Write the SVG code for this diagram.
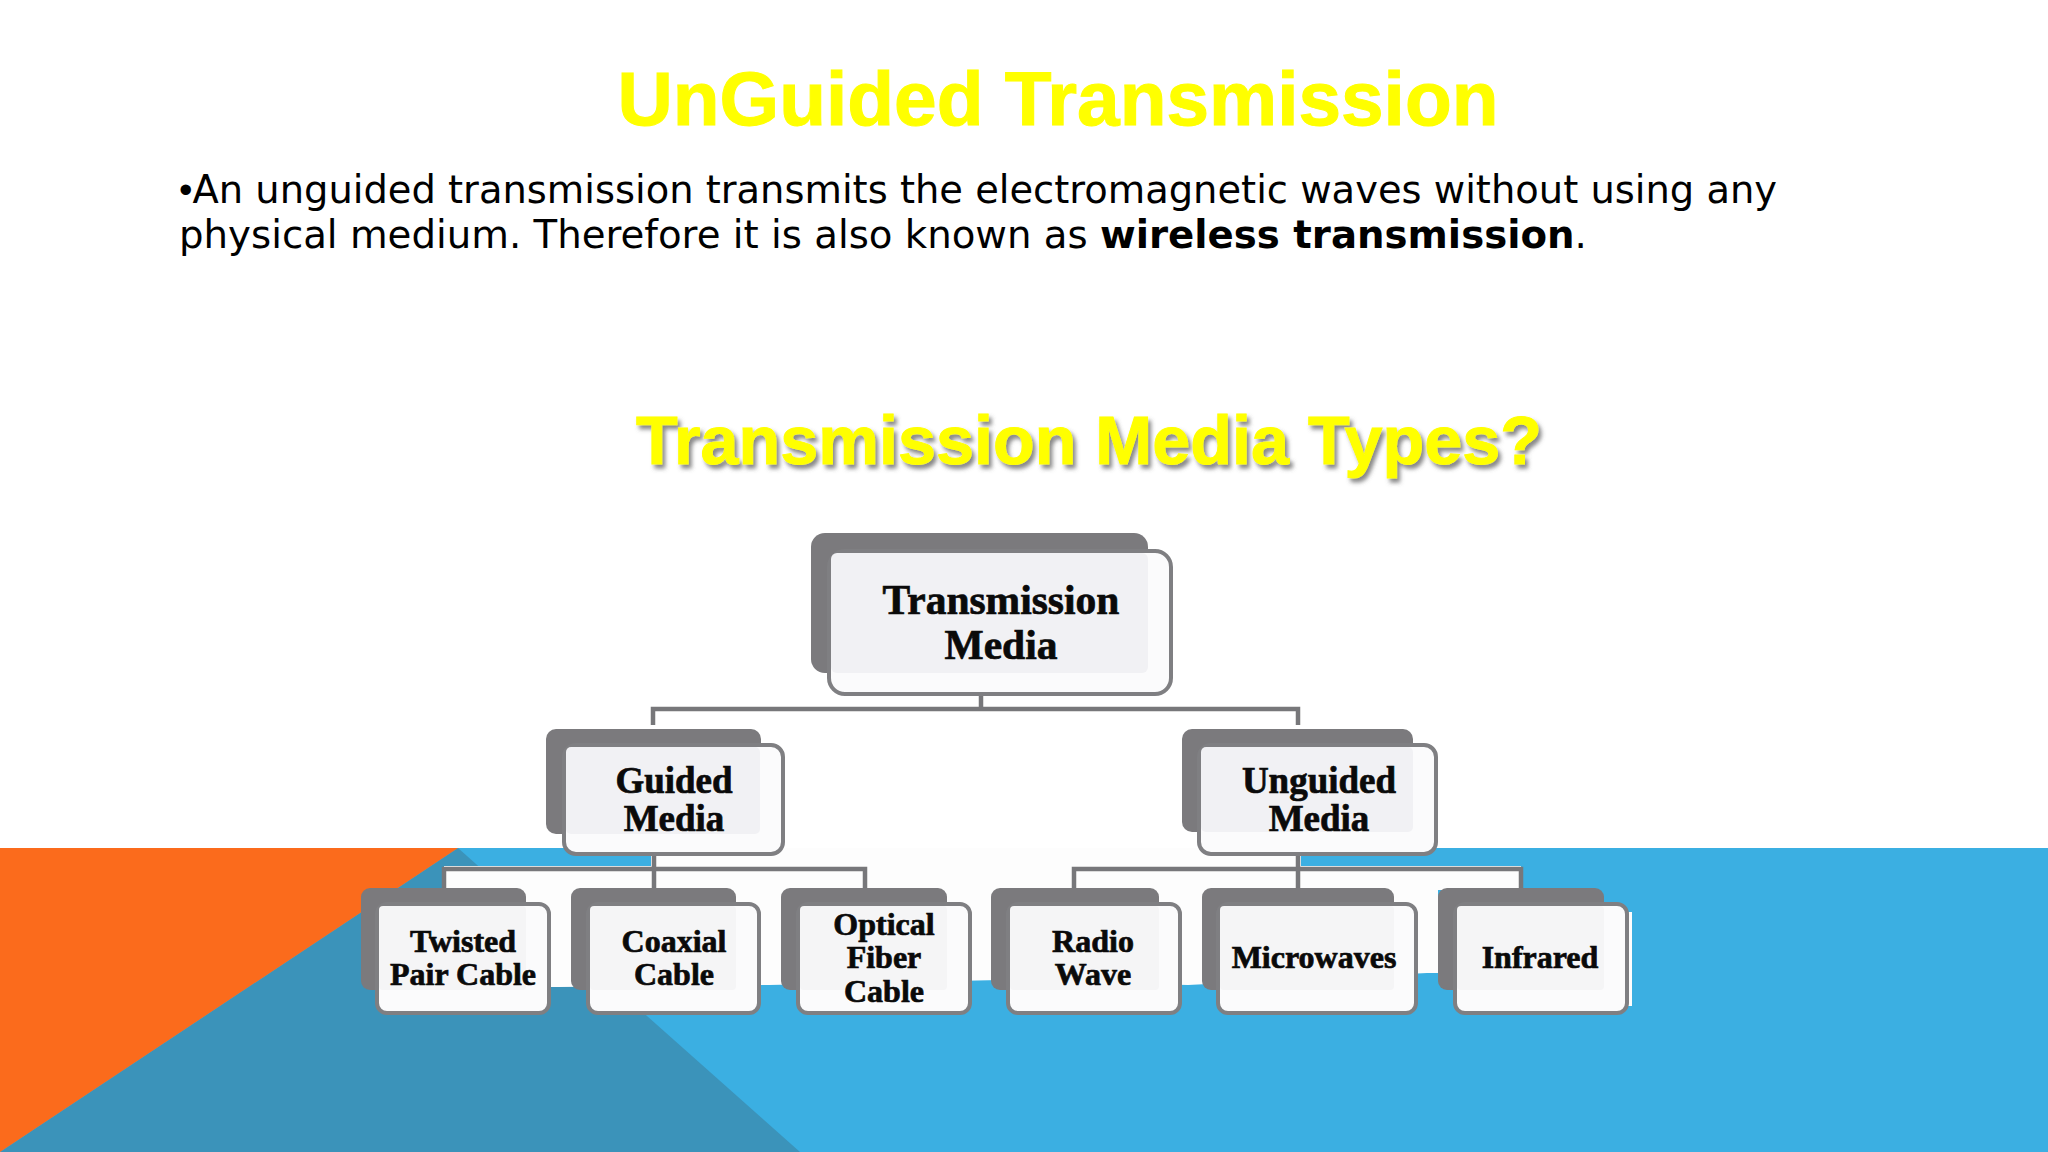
<svg xmlns="http://www.w3.org/2000/svg" width="2048" height="1152" viewBox="0 0 2048 1152">
<defs>
<filter id="ds" x="-5%" y="-20%" width="110%" height="150%"><feDropShadow dx="3" dy="4" stdDeviation="2" flood-color="#555" flood-opacity="0.7"/></filter>
</defs>
<style>
.shadow{fill:#7b7a7d}
.card{fill:#fbfbfc;stroke:#7f7f82;stroke-width:4}
.inner{fill:#f1f1f4}
.inner2{fill:#f5f5f6}
.lbl{font-family:"Liberation Serif",serif;font-weight:700;fill:#0a0a0a;text-anchor:middle;stroke:#0a0a0a;stroke-width:.7}
.l0{font-size:41.5px}.l1{font-size:37px}.l2{font-size:32px}
.conn{fill:none;stroke:#77777a;stroke-width:4.5}
.body{font-family:"DejaVu Sans",Verdana,sans-serif;fill:#000}
.head{font-family:"Liberation Sans",Arial,sans-serif;font-weight:700;fill:#ffff00;stroke:#ffff00;stroke-width:1;text-anchor:middle}
</style>
<rect id="bg" width="2048" height="1152" fill="#ffffff"/>
<g id="backdrop">
<rect x="0" y="848" width="2048" height="304" fill="#3bafe2"/>
<polygon points="458,848 800,1152 0,1152" fill="#3b93ba"/>
<polygon points="0,848 458,848 0,1152" fill="#fb6b1c"/>
<polygon points="651,848 1301,848 1301,866 1521,866 1521,890 1438,890 1438,973 1427,973 1188,985 1000,980 769,985 559,987 370,987 370,890 444,890 444,866 651,866" fill="#fdfdfd"/>
<rect x="1628" y="912" width="4" height="94" fill="#fdfdfd"/>
</g>
<text id="title" class="head" x="1058" y="125" font-size="76.6">UnGuided Transmission</text>
<g id="paragraph">
<text class="body" x="179" y="202.5" font-size="38.43"><tspan font-family="Liberation Sans">•</tspan>An unguided transmission transmits the electromagnetic waves without using any</text>
<text class="body" x="179" y="248" font-size="38.7">physical medium. Therefore it is also known as <tspan font-weight="700">wireless transmission</tspan>.</text>
</g>
<text id="subtitle" class="head" x="1089" y="464" font-size="68.3" filter="url(#ds)">Transmission Media Types?</text>
<g id="connectors" class="conn">
<path d="M981 695V709M653 725V709H1298V725"/>
<path d="M654 855V892M444 888V869H865V892"/>
<path d="M1298 853V892M1074 892V869H1521V888"/>
</g>
<g id="node-transmission-media">
<rect class="shadow" x="811" y="533" width="337" height="140" rx="14"/>
<rect class="card" x="829" y="551" width="342" height="143" rx="16"/>
<rect class="inner" x="831" y="553" width="317" height="120" rx="6"/>
<text class="lbl l0" x="1001" y="614">Transmission</text>
<text class="lbl l0" x="1001" y="659">Media</text>
</g>
<g id="node-guided-media">
<rect class="shadow" x="546" y="729" width="215" height="105" rx="10"/>
<rect class="card" x="564" y="745" width="219" height="109" rx="12"/>
<rect class="inner" x="566" y="747" width="194" height="87" rx="5"/>
<text class="lbl l1" x="674" y="793">Guided</text>
<text class="lbl l1" x="674" y="831">Media</text>
</g>
<g id="node-unguided-media">
<rect class="shadow" x="1182" y="729" width="231" height="103" rx="10"/>
<rect class="card" x="1199" y="745" width="237" height="109" rx="12"/>
<rect class="inner" x="1201" y="747" width="212" height="85" rx="5"/>
<text class="lbl l1" x="1319" y="793">Unguided</text>
<text class="lbl l1" x="1319" y="831">Media</text>
</g>
<g id="node-twisted">
<rect class="shadow" x="361" y="888" width="165" height="102" rx="9"/>
<rect class="card" x="377" y="904" width="172" height="109" rx="10"/>
<rect class="inner2" x="379" y="906" width="147" height="84" rx="4"/>
<text class="lbl l2" x="463" y="952">Twisted</text>
<text class="lbl l2" x="463" y="985">Pair Cable</text>
</g>
<g id="node-coaxial">
<rect class="shadow" x="571" y="888" width="165" height="102" rx="9"/>
<rect class="card" x="588" y="904" width="171" height="109" rx="10"/>
<rect class="inner2" x="590" y="906" width="146" height="84" rx="4"/>
<text class="lbl l2" x="674" y="952">Coaxial</text>
<text class="lbl l2" x="674" y="985">Cable</text>
</g>
<g id="node-optical">
<rect class="shadow" x="781" y="888" width="166" height="102" rx="9"/>
<rect class="card" x="798" y="904" width="172" height="109" rx="10"/>
<rect class="inner2" x="800" y="906" width="147" height="84" rx="4"/>
<text class="lbl l2" x="884" y="935">Optical</text>
<text class="lbl l2" x="884" y="968">Fiber</text>
<text class="lbl l2" x="884" y="1002">Cable</text>
</g>
<g id="node-radio">
<rect class="shadow" x="991" y="888" width="168" height="102" rx="9"/>
<rect class="card" x="1008" y="904" width="172" height="109" rx="10"/>
<rect class="inner2" x="1010" y="906" width="149" height="84" rx="4"/>
<text class="lbl l2" x="1093" y="952">Radio</text>
<text class="lbl l2" x="1093" y="985">Wave</text>
</g>
<g id="node-microwaves">
<rect class="shadow" x="1202" y="888" width="192" height="102" rx="9"/>
<rect class="card" x="1218" y="904" width="198" height="109" rx="10"/>
<rect class="inner2" x="1220" y="906" width="174" height="84" rx="4"/>
<text class="lbl l2" x="1314" y="968">Microwaves</text>
</g>
<g id="node-infrared">
<rect class="shadow" x="1438" y="888" width="166" height="102" rx="9"/>
<rect class="card" x="1455" y="904" width="172" height="109" rx="10"/>
<rect class="inner2" x="1457" y="906" width="147" height="84" rx="4"/>
<text class="lbl l2" x="1540" y="968">Infrared</text>
</g>
</svg>
